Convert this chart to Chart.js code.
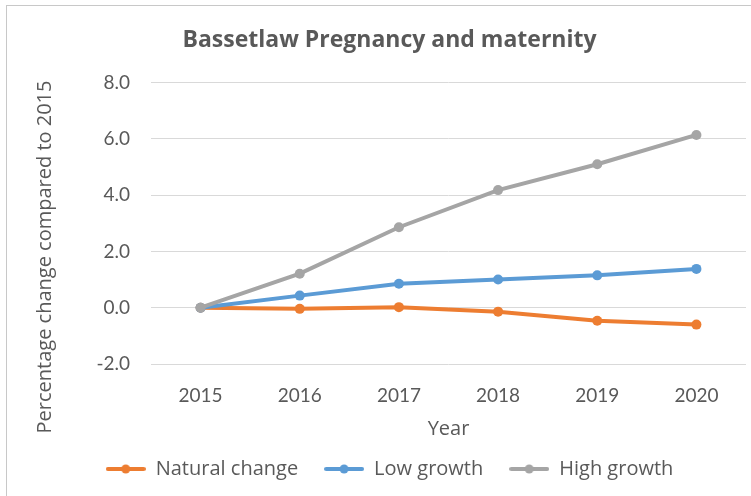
<!DOCTYPE html>
<html>
<head>
<meta charset="utf-8">
<script src="https://cdn.jsdelivr.net/npm/chart.js@4"></script>
<style>
  html, body { margin: 0; padding: 0; background: #fff; overflow: hidden; }
  #frame { position: absolute; left: 6px; top: 5px; width: 800px; height: 600px; border: 1px solid #c8c8c8; }
  #wrap { position: absolute; left: 0; top: 0; width: 751px; height: 496px; }
</style>
</head>
<body>
<div id="frame"></div>
<div id="wrap"><canvas id="chart" width="751" height="496"></canvas></div>
<script>
// Chart data
const years = ['2015', '2016', '2017', '2018', '2019', '2020'];
const naturalChange = [0, -0.04, 0.02, -0.14, -0.46, -0.6];
const lowGrowth = [0, 0.43, 0.85, 1.0, 1.15, 1.38];
const highGrowth = [0, 1.21, 2.86, 4.18, 5.1, 6.14];

const yTitle = 'Percentage change compared to 2015';

const textColor = '#595959';
const tickFont = 'Lato, "Open Sans", sans-serif';
const labelFont = '"Open Sans", Lato, sans-serif';

// legend marker: short line with a dot in the middle
function legendMarker(color) {
    const c = document.createElement('canvas');
    c.width = 40;
    c.height = 12;
    const g = c.getContext('2d');
    g.strokeStyle = color;
    g.lineWidth = 4;
    g.lineCap = 'round';
    g.beginPath();
    g.moveTo(2, 6);
    g.lineTo(38, 6);
    g.stroke();
    g.fillStyle = color;
    g.beginPath();
    g.arc(20, 6, 4.5, 0, Math.PI * 2);
    g.fill();
    return c;
}

function series(label, data, color, order) {
    return {
        label: label,
        data: data,
        order: order,
        borderColor: color,
        backgroundColor: color,
        borderWidth: 4,
        pointRadius: 5,
        pointHoverRadius: 5,
        pointBackgroundColor: color,
        pointBorderWidth: 0,
        pointStyle: 'circle',
        tension: 0,
        fill: false,
        marker: legendMarker(color)
    };
}

// y axis title, centred a bit lower than the plot like the original
const yTitlePlugin = {
    id: 'yTitle',
    afterDraw(chart) {
        const ctx = chart.ctx;
        ctx.save();
        ctx.translate(45, 257);
        ctx.rotate(-Math.PI / 2);
        ctx.fillStyle = textColor;
        ctx.font = '20px ' + labelFont;
        ctx.textAlign = 'center';
        ctx.textBaseline = 'middle';
        ctx.fillText(yTitle, 0, 0);
        ctx.restore();
    }
};

new Chart(document.getElementById('chart'), {
    type: 'line',
    data: {
        labels: years,
        datasets: [
            series('Natural change', naturalChange, '#ED7D31', 3),
            series('Low growth', lowGrowth, '#5B9BD5', 2),
            series('High growth', highGrowth, '#A5A5A5', 1)
        ]
    },
    plugins: [yTitlePlugin],
    options: {
        responsive: false,
        animation: false,
        layout: { padding: { left: 30, right: 2, top: 16, bottom: 7 } },
        plugins: {
            title: {
                display: true,
                text: 'Bassetlaw Pregnancy and maternity',
                color: textColor,
                font: { family: labelFont, size: 23, weight: 'bold' },
                padding: { top: 11, bottom: 28 }
            },
            legend: {
                position: 'bottom',
                labels: {
                    color: textColor,
                    font: { family: labelFont, size: 20 },
                    usePointStyle: true,
                    pointStyleWidth: 40,
                    padding: 26,
                    generateLabels: chart => chart.data.datasets.map((ds, i) => ({
                        text: ds.label,
                        fontColor: textColor,
                        pointStyle: ds.marker,
                        strokeStyle: ds.borderColor,
                        fillStyle: ds.borderColor,
                        lineWidth: 0,
                        datasetIndex: i
                    }))
                }
            },
            tooltip: { enabled: false }
        },
        scales: {
            x: {
                offset: true,
                afterFit: scale => { scale.height = 69; },
                grid: { display: false, drawTicks: false },
                border: { display: false },
                ticks: { color: textColor, font: { family: tickFont, size: 19 }, padding: 20 },
                title: {
                    display: true,
                    text: 'Year',
                    color: textColor,
                    font: { family: labelFont, size: 20 },
                    padding: { top: 0, bottom: -8 }
                }
            },
            y: {
                min: -2,
                max: 8,
                afterFit: scale => { scale.width = 121; },
                grid: { color: '#d9d9d9', lineWidth: 1, drawTicks: false },
                border: { display: false },
                ticks: {
                    stepSize: 2,
                    color: textColor,
                    font: { family: tickFont, size: 19 },
                    padding: 21,
                    callback: v => v.toFixed(1)
                }
            }
        }
    }
});
</script>
</body>
</html>
